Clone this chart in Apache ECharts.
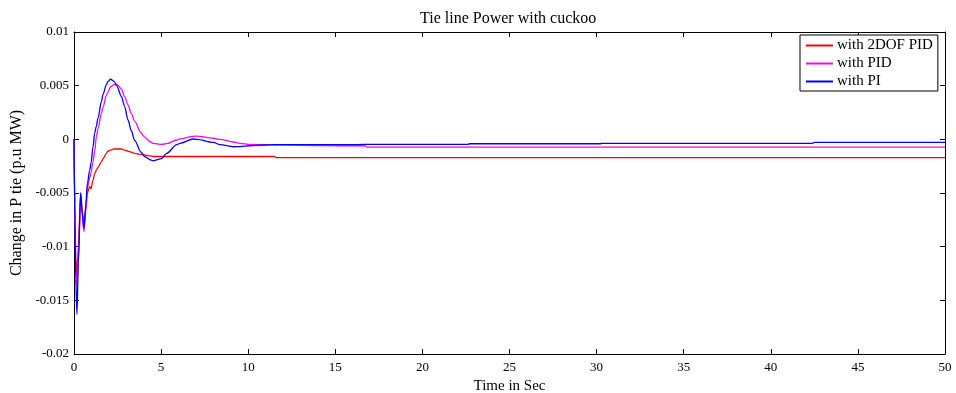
<!DOCTYPE html>
<html>
<head>
<meta charset="utf-8">
<script src="https://cdn.jsdelivr.net/npm/echarts@6/dist/echarts.min.js"></script>
<style>
  html, body { margin: 0; padding: 0; background: #fff; }
  #chart { width: 956px; height: 393px; }
</style>
</head>
<body>
<div id="chart"></div>
<script>
// Sample times (s)
const timeSec = [0, 0.05, 0.1, 0.17, 0.25, 0.38, 0.47, 0.57, 0.67, 0.77, 0.9, 0.98, 1.09, 1.19, 1.28, 1.38,
  1.57, 1.67, 1.86, 1.95, 2.1, 2.3, 2.45, 2.72, 2.9, 3.1, 3.29, 3.48, 3.85, 4.05, 4.36, 4.55, 5.03, 5.32,
  5.9, 6.08, 6.85, 7.04, 8.0, 8.38, 9.15, 9.53, 10.1, 11, 11.5, 11.6, 13, 15.8, 16.7, 16.8, 22.6, 22.7,
  30.2, 30.3, 42.4, 42.5, 50];

// Tie-line power deviation (p.u MW) for each controller
const with2dofPid = [0, -0.006, -0.011, -0.0128, -0.0100, -0.0050, -0.0065, -0.0083, -0.0065, -0.0050,
  -0.0044, -0.0046, -0.0038, -0.0032, -0.0029, -0.0026, -0.0021, -0.0018, -0.0013, -0.0011, -0.0010,
  -0.0009, -0.0009, -0.0009, -0.0010, -0.0011, -0.0012, -0.0013, -0.0014, -0.00145, -0.00155, -0.0016,
  -0.0016, -0.0016, -0.0016, -0.0016, -0.0016, -0.0016, -0.0016, -0.0016, -0.0016, -0.0016, -0.0016,
  -0.0016, -0.0016, -0.0017, -0.0017, -0.0017, -0.0017, -0.0017, -0.0017, -0.0017, -0.0017, -0.0017,
  -0.0017, -0.0017, -0.0017];

const withPid = [0, -0.0065, -0.0115, -0.0137, -0.0112, -0.0055, -0.0070, -0.0086, -0.0068, -0.0045,
  -0.0036, -0.0031, -0.0021, -0.0011, 0.0002, 0.0010, 0.0024, 0.0030, 0.0041, 0.0044, 0.0049, 0.0051,
  0.00515, 0.0047, 0.0040, 0.0032, 0.0024, 0.0017, 0.0006, 0.0002, -0.0002, -0.00037, -0.00047, -0.0004,
  -0.00006, 0.00005, 0.00028, 0.0003, 0.0001, 0.0, -0.00025, -0.00037, -0.00047, -0.0005, -0.00053,
  -0.00053, -0.00055, -0.0006, -0.0006, -0.00072, -0.00072, -0.00072, -0.00072, -0.00072, -0.00072,
  -0.00072, -0.00072];

const withPi = [0, -0.0075, -0.013, -0.0163, -0.0115, -0.0050, -0.0068, -0.0083, -0.0062, -0.0041,
  -0.0029, -0.0022, -0.0007, 0.0006, 0.0012, 0.0020, 0.0035, 0.0042, 0.0051, 0.0054, 0.0056, 0.0054,
  0.0050, 0.0040, 0.0031, 0.0018, 0.0008, -0.0001, -0.0012, -0.0016, -0.0019, -0.0020, -0.0018, -0.0013,
  -0.0005, -0.00037, 0.00003, 0.0, -0.00028, -0.0005, -0.00069, -0.00068, -0.0006, -0.00053, -0.0005,
  -0.0005, -0.0005, -0.0005, -0.00047, -0.00047, -0.00047, -0.00041, -0.00041, -0.00037, -0.00037,
  -0.00028, -0.00028];

const xTicks = { min: 0, max: 50, interval: 5 };
const yTicks = { min: -0.02, max: 0.01, interval: 0.005 };

const pairs = vals => timeSec.map((t, i) => [t, vals[i]]);

const font = 'Liberation Serif';
const black = '#000';

const chart = echarts.init(document.getElementById('chart'), null, { renderer: 'canvas' });

const baseAxisLine = { show: true, onZero: false, lineStyle: { color: black, width: 1 } };
const inTick = { show: true, inside: true, length: 5, lineStyle: { color: black } };

chart.setOption({
  animation: false,
  backgroundColor: '#fff',
  title: {
    text: 'Tie line Power with cuckoo',
    left: 415,
    top: 6,
    textStyle: { fontFamily: font, fontSize: 16, fontWeight: 'normal', color: black }
  },
  grid: { left: 74, right: 11, top: 32, bottom: 39, outerBoundsMode: 'none', containLabel: false },
  legend: {
    orient: 'vertical',
    left: 800,
    top: 35,
    padding: [3, 5, 2, 6],
    itemGap: 3,
    itemWidth: 27,
    itemHeight: 2,
    icon: 'rect',
    borderColor: black,
    borderWidth: 1,
    borderRadius: 0,
    backgroundColor: '#fff',
    textStyle: { fontFamily: font, fontSize: 15, color: black, padding: [0, 0, 0, -1] },
    data: ['with 2DOF PID', 'with PID', 'with PI']
  },
  xAxis: [
    {
      type: 'value', position: 'bottom',
      min: xTicks.min, max: xTicks.max, interval: xTicks.interval,
      name: 'Time in Sec', nameLocation: 'middle', nameGap: 23,
      nameTextStyle: { fontFamily: font, fontSize: 15, color: black },
      axisLine: baseAxisLine, axisTick: inTick,
      axisLabel: { fontFamily: font, fontSize: 13, color: black, margin: 7 },
      splitLine: { show: false }
    },
    {
      type: 'value', position: 'top',
      min: xTicks.min, max: xTicks.max, interval: xTicks.interval,
      axisLine: baseAxisLine, axisTick: inTick,
      axisLabel: { show: false }, splitLine: { show: false }
    }
  ],
  yAxis: [
    {
      type: 'value', position: 'left',
      min: yTicks.min, max: yTicks.max, interval: yTicks.interval,
      name: 'Change in P tie (p.u MW)', nameLocation: 'middle', nameGap: 46,
      nameTextStyle: { fontFamily: font, fontSize: 16, color: black },
      axisLine: baseAxisLine, axisTick: inTick,
      axisLabel: { fontFamily: font, fontSize: 13, color: black, margin: 5 },
      splitLine: { show: false }
    },
    {
      type: 'value', position: 'right',
      min: yTicks.min, max: yTicks.max, interval: yTicks.interval,
      axisLine: baseAxisLine, axisTick: inTick,
      axisLabel: { show: false }, splitLine: { show: false }
    }
  ],
  series: [
    {
      name: 'with 2DOF PID', type: 'line', data: pairs(with2dofPid),
      symbol: 'none', smooth: 0.3, smoothMonotone: 'x',
      lineStyle: { color: '#ff0000', width: 1.3 }, itemStyle: { color: '#ff0000' }
    },
    {
      name: 'with PID', type: 'line', data: pairs(withPid),
      symbol: 'none', smooth: 0.3, smoothMonotone: 'x',
      lineStyle: { color: '#ff00ff', width: 1.3 }, itemStyle: { color: '#ff00ff' }
    },
    {
      name: 'with PI', type: 'line', data: pairs(withPi),
      symbol: 'none', smooth: 0.3, smoothMonotone: 'x',
      lineStyle: { color: '#0000ff', width: 1.3 }, itemStyle: { color: '#0000ff' }
    }
  ]
});
</script>
</body>
</html>
